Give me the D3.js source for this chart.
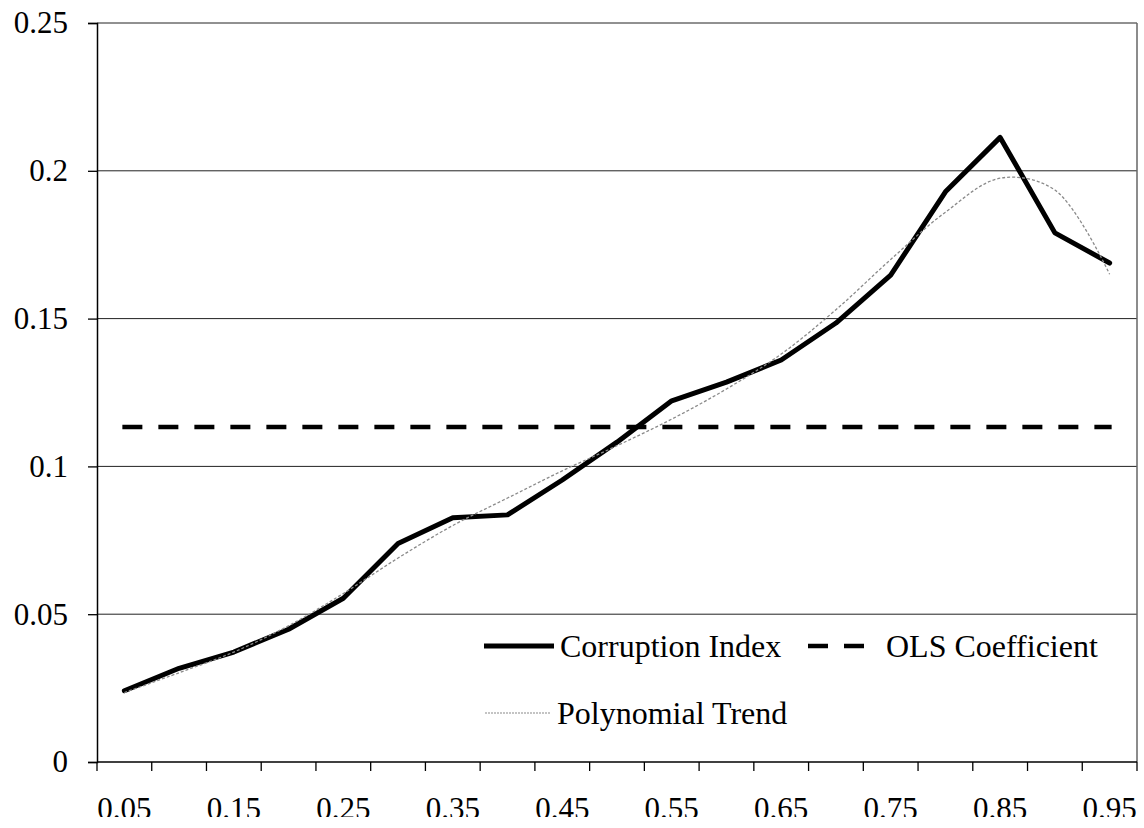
<!DOCTYPE html>
<html>
<head>
<meta charset="utf-8">
<script src="https://cdn.jsdelivr.net/npm/d3@7"></script>
<style>
  html, body { margin: 0; padding: 0; background: #fff; }
  svg { display: block; }
  text { font-family: "Liberation Serif", "Times New Roman", serif; fill: #000; }
</style>
</head>
<body>
<svg width="1144" height="828"></svg>
<script>
// quantiles on the x axis
var quantiles = ["0.05", "0.1", "0.15", "0.2", "0.25", "0.3", "0.35", "0.4", "0.45", "0.5",
                 "0.55", "0.6", "0.65", "0.7", "0.75", "0.8", "0.85", "0.9", "0.95"];
var xLabels = ["0.05", "0.15", "0.25", "0.35", "0.45", "0.55", "0.65", "0.75", "0.85", "0.95"];

var corruption = [0.0241, 0.0317, 0.0372, 0.0449, 0.0554, 0.0739, 0.0826, 0.0836, 0.0954, 0.1082,
                  0.1222, 0.1285, 0.1360, 0.1485, 0.1647, 0.1929, 0.2113, 0.1790, 0.1688];
var trend = [0.0235, 0.0302, 0.0372, 0.0461, 0.0570, 0.0690, 0.0800, 0.0893, 0.0985, 0.1070,
             0.1160, 0.1262, 0.1380, 0.1530, 0.1700, 0.1860, 0.1975, 0.1935, 0.1650];
var olsCoefficient = 0.1133;

var yTicks = [0, 0.05, 0.1, 0.15, 0.2, 0.25];

var svg = d3.select("svg"),
    margin = {top: 23, right: 7, bottom: 66, left: 97},
    width = 1144 - margin.left - margin.right,
    height = 828 - margin.top - margin.bottom;

// the picture is cut a little above the bottom edge
svg.append("clipPath").attr("id", "page")
  .append("rect").attr("width", 1144).attr("height", 817);

var root = svg.append("g").attr("clip-path", "url(#page)");
var g = root.append("g").attr("transform", "translate(" + margin.left + "," + margin.top + ")");

var x = d3.scaleBand().domain(quantiles).range([0, width]).padding(0);
var y = d3.scaleLinear().domain([0, 0.25]).range([height, 0]);
var cx = function(d, i) { return x(quantiles[i]) + x.bandwidth() / 2; };

// gridlines
g.append("g")
  .selectAll("line")
  .data(yTicks.slice(1))
  .enter().append("line")
    .attr("x1", 0).attr("x2", width)
    .attr("y1", function(d) { return y(d); })
    .attr("y2", function(d) { return y(d); })
    .attr("stroke", "#222")
    .attr("stroke-width", 1);

// right border of plot area
g.append("line")
  .attr("x1", width).attr("x2", width)
  .attr("y1", 0).attr("y2", height)
  .attr("stroke", "#666").attr("stroke-width", 1.5);

// y axis
var yAxis = g.append("g")
  .call(d3.axisLeft(y).tickValues(yTicks).tickSize(9).tickPadding(20)
    .tickFormat(function(d) { return d === 0 ? "0" : String(+d.toFixed(2)); }));
yAxis.select(".domain").attr("stroke", "#000").attr("stroke-width", 1.5);
yAxis.selectAll(".tick line").attr("stroke", "#000").attr("stroke-width", 1.3);
yAxis.selectAll(".tick text")
  .style("font-family", "'Liberation Serif', 'Times New Roman', serif")
  .style("font-size", "31px");

// x axis: ticks on category boundaries, labels on every other category
var bounds = quantiles.map(function(q) { return x(q); }).concat([width]);
var xAxis = g.append("g").attr("transform", "translate(0," + height + ")");
xAxis.append("line")
  .attr("x1", 0).attr("x2", width)
  .attr("stroke", "#000").attr("stroke-width", 1.5);
xAxis.selectAll(".xtick")
  .data(bounds)
  .enter().append("line")
    .attr("class", "xtick")
    .attr("x1", function(d) { return d; })
    .attr("x2", function(d) { return d; })
    .attr("y1", 0).attr("y2", 9)
    .attr("stroke", "#000").attr("stroke-width", 1.3);
xAxis.selectAll(".xlab")
  .data(xLabels)
  .enter().append("text")
    .attr("class", "xlab")
    .attr("x", function(d) { return x(String(+d)) + x.bandwidth() / 2; })
    .attr("y", 57)
    .attr("text-anchor", "middle")
    .style("font-size", "31px")
    .text(function(d) { return d; });

// OLS coefficient (dashed)
g.append("line")
  .attr("x1", cx(null, 0) - 2)
  .attr("x2", cx(null, quantiles.length - 1) + 2)
  .attr("y1", y(olsCoefficient)).attr("y2", y(olsCoefficient))
  .attr("stroke", "#000")
  .attr("stroke-width", 4.5)
  .attr("stroke-dasharray", "20,16");

// corruption index
var line = d3.line()
  .x(cx)
  .y(function(d) { return y(d); });

g.append("path")
  .datum(corruption)
  .attr("fill", "none")
  .attr("stroke", "#000")
  .attr("stroke-width", 5)
  .attr("stroke-linejoin", "round")
  .attr("stroke-linecap", "round")
  .attr("d", line);

// polynomial trend
g.append("path")
  .datum(trend)
  .attr("fill", "none")
  .attr("stroke", "#8a8a8a")
  .attr("stroke-width", 1.3)
  .attr("stroke-dasharray", "3,2")
  .attr("d", line.curve(d3.curveCatmullRom));

// legend
var legend = root.append("g");
var items = [
  {label: "Corruption Index", x: 484, y: 646, w: 70, style: "solid"},
  {label: "OLS Coefficient", x: 808, y: 646, w: 56, style: "dash"},
  {label: "Polynomial Trend", x: 485, y: 713, w: 66, style: "dot"}
];
items.forEach(function(d) {
  var l = legend.append("line")
    .attr("x1", d.x).attr("x2", d.x + d.w)
    .attr("y1", d.y).attr("y2", d.y)
    .attr("stroke", "#000");
  if (d.style === "solid") l.attr("stroke-width", 5);
  if (d.style === "dash") l.attr("stroke-width", 4.5).attr("stroke-dasharray", "20,16");
  if (d.style === "dot") l.attr("stroke", "#8a8a8a").attr("stroke-width", 1.2).attr("stroke-dasharray", "2,1");
  legend.append("text")
    .attr("x", d.style === "dash" ? d.x + d.w + 22 : d.x + d.w + 6)
    .attr("y", d.y + 11)
    .style("font-size", "32px")
    .text(d.label);
});
</script>
</body>
</html>
